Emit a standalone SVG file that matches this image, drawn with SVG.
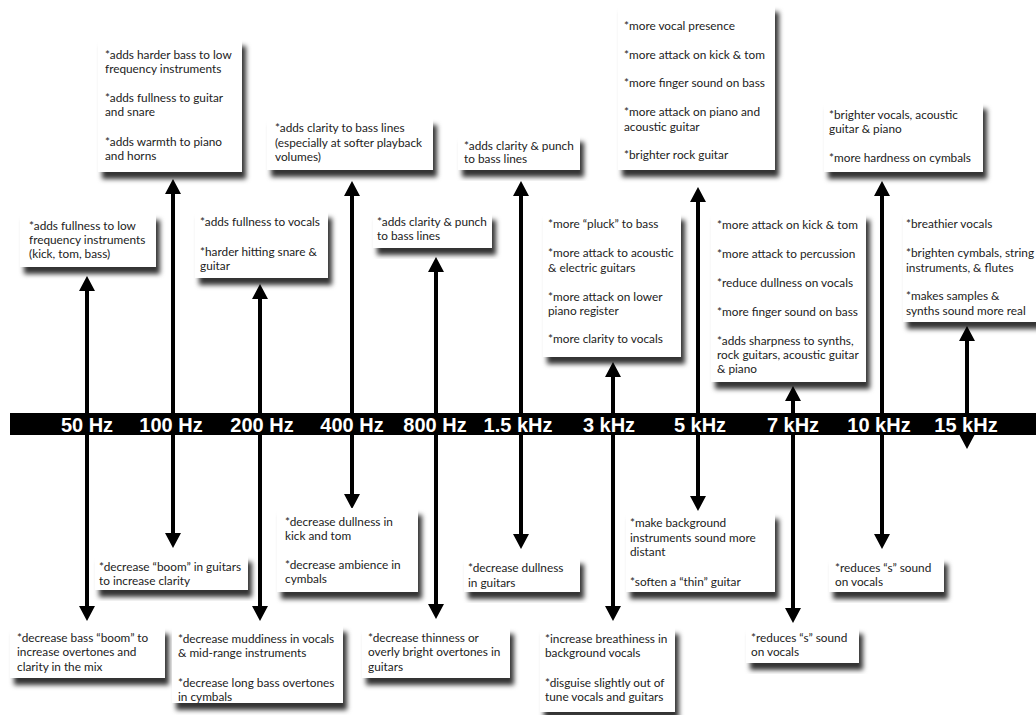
<svg xmlns="http://www.w3.org/2000/svg" width="1036" height="715" viewBox="0 0 1036 715">
<defs>
<filter id="sh" x="-10%" y="-10%" width="130%" height="140%">
<feDropShadow dx="4" dy="7" stdDeviation="2.8" flood-color="#000" flood-opacity="0.8"/>
</filter>
<marker id="ah" markerUnits="userSpaceOnUse" markerWidth="15" markerHeight="16" refX="4" refY="8" orient="auto-start-reverse">
<path d="M0,0 L15,8 L0,16 Z" fill="#000"/>
</marker>
<style>
.bx{fill:#fff;filter:url(#sh)}
.t{font-family:Lato,"Open Sans","Liberation Sans",sans-serif;font-size:11.8px;fill:#222}
.hz{font-family:"Liberation Sans",Arial,sans-serif;font-weight:bold;font-size:20px;fill:#fff;text-anchor:middle}
.ar{stroke:#000;stroke-width:4;fill:none;marker-start:url(#ah);marker-end:url(#ah)}
</style>
</defs>
<rect width="1036" height="715" fill="#fff"/>

<g id="connectors">
<line class="ar" x1="87" y1="287" x2="87" y2="610"/>
<line class="ar" x1="173" y1="190" x2="173" y2="537"/>
<line class="ar" x1="260" y1="295" x2="260" y2="610"/>
<line class="ar" x1="352" y1="192" x2="352" y2="498"/>
<line class="ar" x1="436" y1="268" x2="436" y2="608"/>
<line class="ar" x1="521" y1="192" x2="521" y2="538"/>
<line class="ar" x1="613" y1="373" x2="613" y2="610"/>
<line class="ar" x1="698" y1="198" x2="698" y2="500"/>
<line class="ar" x1="793" y1="397" x2="793" y2="612"/>
<line class="ar" x1="882" y1="192" x2="882" y2="538"/>
<line class="ar" x1="967" y1="337" x2="967" y2="438"/>
</g>

<g id="axis">
<rect x="10" y="413" width="1026" height="22" fill="#000"/>
<text class="hz" x="87" y="432">50 Hz</text>
<text class="hz" x="171" y="432">100 Hz</text>
<text class="hz" x="262" y="432">200 Hz</text>
<text class="hz" x="352" y="432">400 Hz</text>
<text class="hz" x="435" y="432">800 Hz</text>
<text class="hz" x="518" y="432">1.5 kHz</text>
<text class="hz" x="609" y="432">3 kHz</text>
<text class="hz" x="700" y="432">5 kHz</text>
<text class="hz" x="793" y="432">7 kHz</text>
<text class="hz" x="879" y="432">10 kHz</text>
<text class="hz" x="966" y="432">15 kHz</text>
</g>

<g id="n50top">
<rect class="bx" x="20" y="213" width="136" height="54"/>
<text class="t"><tspan x="29" y="230">*adds fullness to low</tspan><tspan x="29" y="244">frequency instruments</tspan><tspan x="29" y="258">(kick, tom, bass)</tspan></text>
</g>
<g id="n100top">
<rect class="bx" x="98" y="39" width="144" height="133"/>
<text class="t"><tspan x="105" y="59">*adds harder bass to low</tspan><tspan x="105" y="73">frequency instruments</tspan><tspan x="105" y="102">*adds fullness to guitar</tspan><tspan x="105" y="116">and snare</tspan><tspan x="105" y="146">*adds warmth to piano</tspan><tspan x="105" y="160">and horns</tspan></text>
</g>
<g id="n200top">
<rect class="bx" x="195" y="211" width="133" height="67"/>
<text class="t"><tspan x="200" y="226">*adds fullness to vocals</tspan><tspan x="200" y="256">*harder hitting snare &amp;</tspan><tspan x="200" y="270">guitar</tspan></text>
</g>
<g id="n400top">
<rect class="bx" x="267" y="118" width="166" height="52"/>
<text class="t"><tspan x="275" y="132">*adds clarity to bass lines</tspan><tspan x="275" y="147">(especially at softer playback</tspan><tspan x="275" y="161">volumes)</tspan></text>
</g>
<g id="n800top">
<rect class="bx" x="373" y="213" width="119" height="35"/>
<text class="t"><tspan x="377" y="226">*adds clarity &amp; punch</tspan><tspan x="377" y="240">to bass lines</tspan></text>
</g>
<g id="n1k5top">
<rect class="bx" x="458" y="135" width="122" height="35"/>
<text class="t"><tspan x="464" y="150">*adds clarity &amp; punch</tspan><tspan x="464" y="163">to bass lines</tspan></text>
</g>
<g id="n3ktop">
<rect class="bx" x="543" y="213" width="138" height="144"/>
<text class="t"><tspan x="548" y="228">*more “pluck” to bass</tspan><tspan x="548" y="257">*more attack to acoustic</tspan><tspan x="548" y="272">&amp; electric guitars</tspan><tspan x="548" y="301">*more attack on lower</tspan><tspan x="548" y="315">piano register</tspan><tspan x="548" y="343">*more clarity to vocals</tspan></text>
</g>
<g id="n5ktop">
<rect class="bx" x="618" y="5" width="157" height="165"/>
<text class="t"><tspan x="624" y="30">*more vocal presence</tspan><tspan x="624" y="59">*more attack on kick &amp; tom</tspan><tspan x="624" y="87">*more finger sound on bass</tspan><tspan x="624" y="116">*more attack on piano and</tspan><tspan x="624" y="131">acoustic guitar</tspan><tspan x="624" y="159">*brighter rock guitar</tspan></text>
</g>
<g id="n7ktop">
<rect class="bx" x="711" y="213" width="155" height="169"/>
<text class="t"><tspan x="717" y="229">*more attack on kick &amp; tom</tspan><tspan x="717" y="258">*more attack to percussion</tspan><tspan x="717" y="287">*reduce dullness on vocals</tspan><tspan x="717" y="316">*more finger sound on bass</tspan><tspan x="717" y="345">*adds sharpness to synths,</tspan><tspan x="717" y="359">rock guitars, acoustic guitar</tspan><tspan x="717" y="373">&amp; piano</tspan></text>
</g>
<g id="n10ktop">
<rect class="bx" x="824" y="102" width="159" height="70"/>
<text class="t"><tspan x="829" y="119">*brighter vocals, acoustic</tspan><tspan x="829" y="133">guitar &amp; piano</tspan><tspan x="829" y="162">*more hardness on cymbals</tspan></text>
</g>
<g id="n15ktop">
<rect class="bx" x="903" y="212" width="140" height="110"/>
<text class="t"><tspan x="906" y="228">*breathier vocals</tspan><tspan x="906" y="257">*brighten cymbals, string</tspan><tspan x="906" y="272">instruments, &amp; flutes</tspan><tspan x="906" y="300">*makes samples &amp;</tspan><tspan x="906" y="315">synths sound more real</tspan></text>
</g>

<g id="n50bot">
<rect class="bx" x="10" y="627" width="155" height="51"/>
<text class="t"><tspan x="17" y="642">*decrease bass “boom” to</tspan><tspan x="17" y="656">increase overtones and</tspan><tspan x="17" y="671">clarity in the mix</tspan></text>
</g>
<g id="n100bot">
<rect class="bx" x="95" y="555" width="153" height="35"/>
<text class="t"><tspan x="99" y="571">*decrease “boom” in guitars</tspan><tspan x="99" y="585">to increase clarity</tspan></text>
</g>
<g id="n200bot">
<rect class="bx" x="172" y="625" width="171" height="78"/>
<text class="t"><tspan x="178" y="643">*decrease muddiness in vocals</tspan><tspan x="178" y="657">&amp; mid-range instruments</tspan><tspan x="178" y="687">*decrease long bass overtones</tspan><tspan x="178" y="701">in cymbals</tspan></text>
</g>
<g id="n400bot">
<rect class="bx" x="277" y="508" width="141" height="84"/>
<text class="t"><tspan x="285" y="526">*decrease dullness in</tspan><tspan x="285" y="540">kick and tom</tspan><tspan x="285" y="569">*decrease ambience in</tspan><tspan x="285" y="583">cymbals</tspan></text>
</g>
<g id="n800bot">
<rect class="bx" x="362" y="627" width="148" height="51"/>
<text class="t"><tspan x="368" y="642">*decrease thinness or</tspan><tspan x="368" y="656">overly bright overtones in</tspan><tspan x="368" y="671">guitars</tspan></text>
</g>
<g id="n1k5bot">
<rect class="bx" x="464" y="557" width="116" height="35"/>
<text class="t"><tspan x="468" y="572">*decrease dullness</tspan><tspan x="468" y="587">in guitars</tspan></text>
</g>
<g id="n3kbot">
<rect class="bx" x="540" y="627" width="135" height="85"/>
<text class="t"><tspan x="545" y="643">*increase breathiness in</tspan><tspan x="545" y="657">background vocals</tspan><tspan x="545" y="687">*disguise slightly out of</tspan><tspan x="545" y="701">tune vocals and guitars</tspan></text>
</g>
<g id="n5kbot">
<rect class="bx" x="626" y="512" width="149" height="80"/>
<text class="t"><tspan x="630" y="527">*make background</tspan><tspan x="630" y="542">instruments sound more</tspan><tspan x="630" y="556">distant</tspan><tspan x="630" y="586">*soften a “thin” guitar</tspan></text>
</g>
<g id="n7kbot">
<rect class="bx" x="746" y="627" width="113" height="36"/>
<text class="t"><tspan x="751" y="642">*reduces “s” sound</tspan><tspan x="751" y="656">on vocals</tspan></text>
</g>
<g id="n10kbot">
<rect class="bx" x="829" y="557" width="115" height="35"/>
<text class="t"><tspan x="835" y="572">*reduces “s” sound</tspan><tspan x="835" y="586">on vocals</tspan></text>
</g>
</svg>
